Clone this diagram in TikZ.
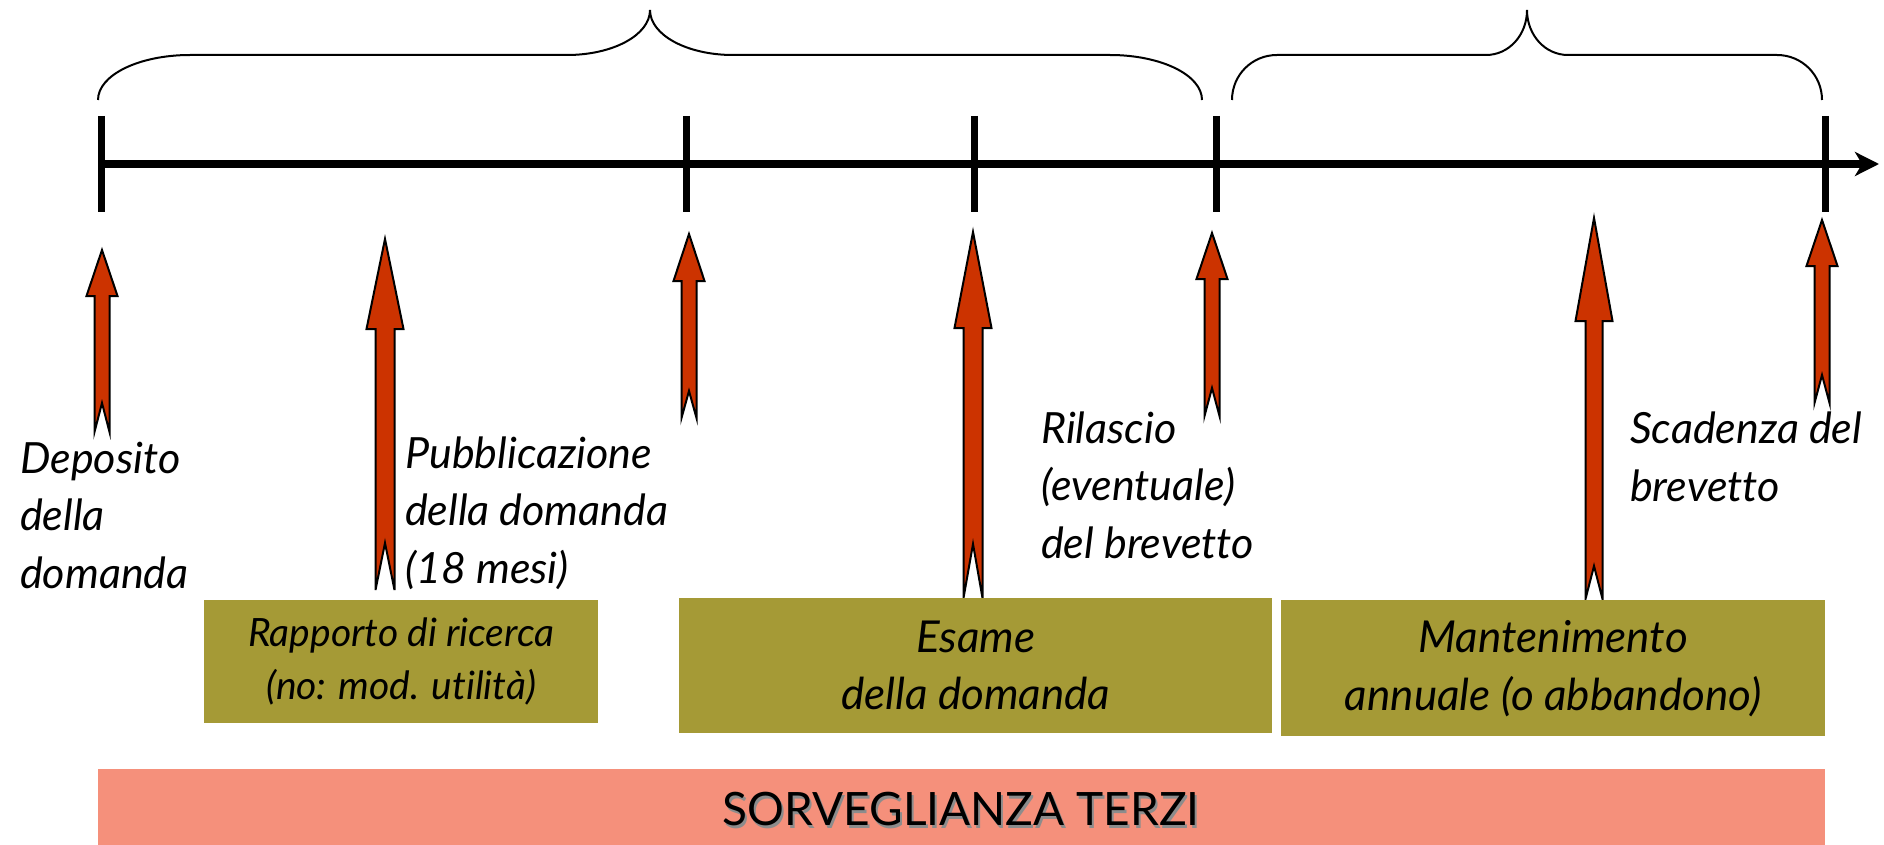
\documentclass[tikz,border=0pt]{standalone}
\usepackage{fontspec}
\setmainfont{Lato}[Ligatures={NoCommon}]
\usetikzlibrary{arrows.meta}
\definecolor{arrred}{HTML}{CC3300}
\definecolor{olivebox}{HTML}{A59A36}
\definecolor{salmonbar}{HTML}{F5907B}
\newcommand{\blockarr}[7]{%
  \draw[blockarrow] (#1,#2) -- ({#1+#6},#3) -- ({#1+#7},#3) -- ({#1+#7},#4) -- (#1,#5)
    -- ({#1-#7},#4) -- ({#1-#7},#3) -- ({#1-#6},#3) -- cycle;}
\begin{document}
\begin{tikzpicture}[x=1pt,y=-1pt,
  blockarrow/.style={draw=black,fill=arrred,line width=2pt,line join=miter},
  axisline/.style={line width=8pt,-{Stealth[length=24pt,width=24pt,inset=7pt]}},
  tickline/.style={line width=7pt},
  bracelin/.style={line width=2pt},
  lbl/.style={font=\fontsize{43}{57.5}\selectfont\itshape,align=left,inner sep=0pt},
  boxnode/.style={fill=olivebox,inner sep=0pt,align=center,anchor=north west},
]
\useasboundingbox (0,0) rectangle (1884,845);

% braces
\draw[bracelin] (98,100) .. controls (98,75) and (139,55) .. (190,55) -- (567,55)
  .. controls (613,55) and (650,35) .. (650,10)
  .. controls (650,35) and (687,55) .. (733,55) -- (1110,55)
  .. controls (1161,55) and (1202,75) .. (1202,100);
\draw[bracelin] (1232,100) .. controls (1232,75) and (1252,55) .. (1277,55) -- (1486,55)
  .. controls (1509,55) and (1527,35) .. (1527,10)
  .. controls (1527,35) and (1545,55) .. (1568,55) -- (1777,55)
  .. controls (1802,55) and (1822,75) .. (1822,100);

% axis
\coordinate (a0) at (101,164);
\coordinate (a1) at (1879,164);
\draw[axisline] (a0) -- (a1);
\foreach \tx in {101,686,974,1216,1825}
  \draw[tickline] (\tx,116) -- (\tx,212);

% block arrows: x, top, head base, bottom, notch, head half width, shaft half width
\blockarr{102}{250}{296}{432}{403}{15.5}{7.5}
\blockarr{385}{239}{329}{590}{543}{18.5}{9.5}
\blockarr{689}{234}{281}{418}{391}{15.5}{7.5}
\blockarr{973}{232}{328}{598}{544}{18.5}{9.5}
\blockarr{1212}{233}{279}{416}{388}{15.5}{7.5}
\blockarr{1594}{218}{321}{599}{566}{18.5}{8.5}
\blockarr{1822}{220}{266}{403}{375}{15.5}{7.5}

% labels (anchor = baseline of last line)
\node[lbl,anchor=base west] (dep) at (20,588) {Deposito\\della\\domanda};
\node[lbl,anchor=base west] (pub) at (405,583) {Pubblicazione\\della domanda\\(18 mesi)};
\node[lbl,anchor=base west] (ril) at (1041,558) {Rilascio\\(eventuale)\\del brevetto};
\node[lbl,anchor=base west] (sca) at (1630,501) {Scadenza del\\brevetto};

% boxes
\node[boxnode,minimum width=394pt,minimum height=123pt,font=\fontsize{39}{53}\selectfont\itshape] (b1) at (204,600)
  {Rapporto di ricerca\\(no: mod. utilità)};
\node[boxnode,minimum width=593pt,minimum height=135pt,font=\fontsize{44}{57}\selectfont\itshape] (b2) at (679,598)
  {Esame\\della domanda};
\node[boxnode,minimum width=544pt,minimum height=136pt,font=\fontsize{44}{58}\selectfont\itshape] (b3) at (1281,600)
  {Mantenimento\\annuale (o abbandono)};

% bottom bar
\node[fill=salmonbar,inner sep=0pt,minimum width=1727pt,minimum height=80pt,anchor=north west] (bar) at (98,769) {};
\node[font=\fontsize{46}{46}\selectfont,text=black!45,anchor=base,inner sep=0pt] (shadow) at (963,828) {SORVEGLIANZA TERZI};
\node[font=\fontsize{46}{46}\selectfont,anchor=base,inner sep=0pt] (sorv) at (961,825) {SORVEGLIANZA TERZI};
\end{tikzpicture}
\end{document}
